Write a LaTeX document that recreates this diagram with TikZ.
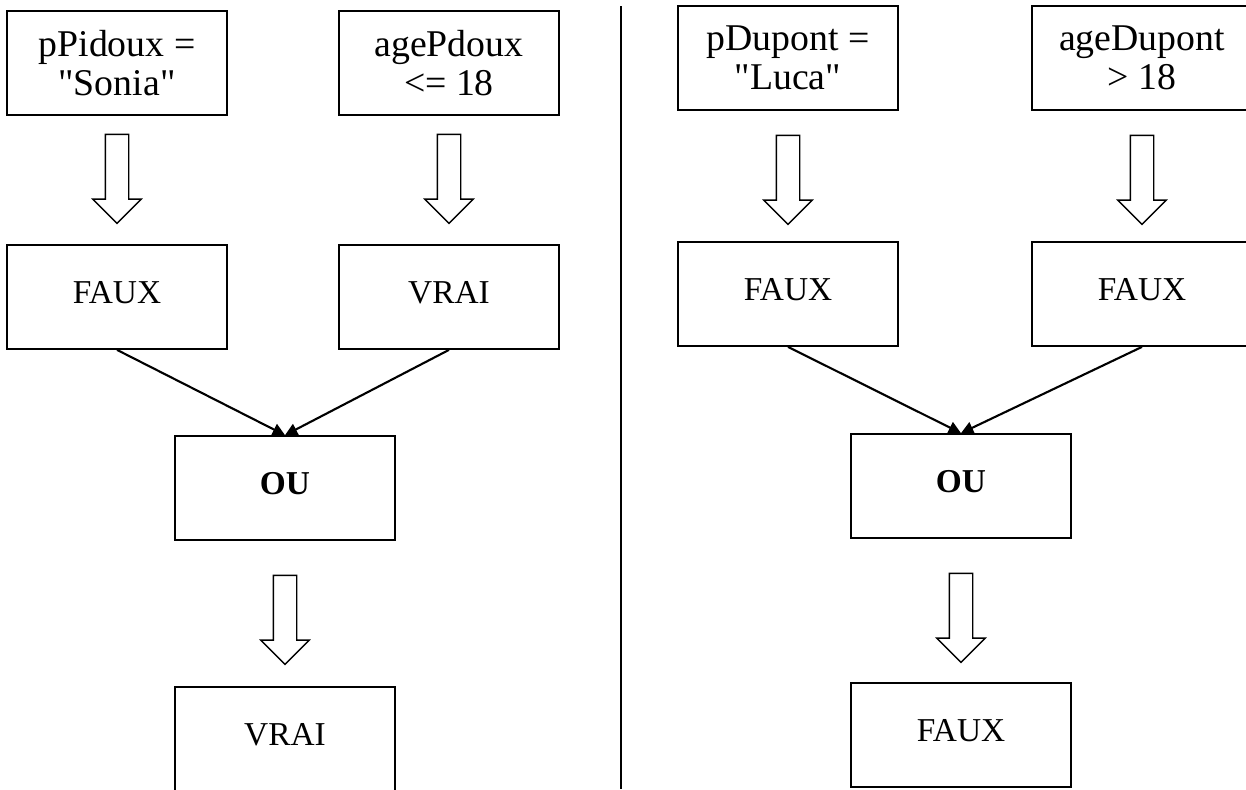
\documentclass[tikz,border=0pt]{standalone}
\usepackage{fontspec}
\setmainfont{Liberation Serif}[Ligatures=TeXOff]
\usetikzlibrary{shapes.arrows,arrows.meta}

\begin{document}
\begin{tikzpicture}[x=0.02cm, y=-0.02cm,
  cond/.style={draw, line width=1pt, minimum width=4.4cm, minimum height=2.08cm, inner sep=0pt, align=center, font=\fontsize{21.5}{22.5}\selectfont},
  res/.style={draw, line width=1pt, minimum width=4.4cm, minimum height=2.08cm, inner sep=0pt, font=\fontsize{19}{20}\selectfont, text height=12.6pt, text depth=5.7pt},
  bigarr/.style={draw, line width=0.8pt, single arrow, shape border rotate=270, minimum height=1.78cm, minimum width=0.94cm, single arrow head extend=0.25cm, single arrow head indent=0pt, inner sep=0.22cm},
  link/.style={line width=1.2pt, -{Triangle[length=7pt,width=7pt]}}]
\useasboundingbox (0,0) rectangle (1246,789);
% left: pPidoux
\node[cond] (nom1) at (117,63) {pPidoux =\\"Sonia"};
\node[cond] (age1) at (449,63) {agePdoux\\<= 18};
\node[bigarr] (fl1) at (117,173) {};
\node[bigarr] (fl2) at (449,173) {};
\node[res] (faux1) at (117,297) {FAUX};
\node[res] (vrai1) at (449,297) {VRAI};
\node[res, font=\fontsize{19}{20}\selectfont\bfseries] (ou1) at (285,488) {OU};
\node[bigarr] (fl3) at (285,614) {};
\node[res] (res1) at (285,739) {VRAI};
\draw[link] (faux1.south) -- (ou1.north);
\draw[link] (vrai1.south) -- (ou1.north);
% separation
\draw[line width=1pt] (621,6) -- (621,789);
% right: pDupont
\node[cond] (nom2) at (788,58) {pDupont =\\"Luca"};
\node[cond] (age2) at (1142,58) {ageDupont\\> 18};
\node[bigarr] (fl4) at (788,174) {};
\node[bigarr] (fl5) at (1142,174) {};
\node[res] (faux2) at (788,294) {FAUX};
\node[res] (faux3) at (1142,294) {FAUX};
\node[res, font=\fontsize{19}{20}\selectfont\bfseries] (ou2) at (961,486) {OU};
\node[bigarr] (fl6) at (961,612) {};
\node[res] (res2) at (961,735) {FAUX};
\draw[link] (faux2.south) -- (ou2.north);
\draw[link] (faux3.south) -- (ou2.north);
\end{tikzpicture}
\end{document}
